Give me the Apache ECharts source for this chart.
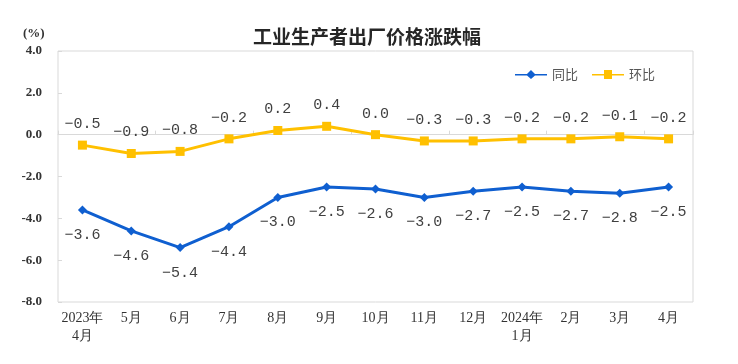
<!DOCTYPE html>
<html>
<head>
<meta charset="utf-8">
<script src="https://cdn.jsdelivr.net/npm/echarts@6/dist/echarts.min.js"></script>
<style>html,body{margin:0;padding:0;background:#fff;}#c{width:738px;height:364px;}</style>
</head>
<body>
<div id="c"></div>
<script>
const categories = ['2023年\n4月','5月','6月','7月','8月','9月','10月','11月','12月','2024年\n1月','2月','3月','4月'];
const yoy = [-3.6,-4.6,-5.4,-4.4,-3.0,-2.5,-2.6,-3.0,-2.7,-2.5,-2.7,-2.8,-2.5];
const mom = [-0.5,-0.9,-0.8,-0.2,0.2,0.4,0.0,-0.3,-0.3,-0.2,-0.2,-0.1,-0.2];
const yTicks = {min:-8, max:4, interval:2};

const labelFont = {fontFamily:'"Liberation Mono","DejaVu Sans Mono",monospace', fontSize:15, color:'#404040'};
const fmt = p => p.value.toFixed(1).replace('-', '\u2212');

const chart = echarts.init(document.getElementById('c'));
chart.setOption({
  animation:false,
  title:{text:'工业生产者出厂价格涨跌幅', left:362, top:22, textAlign:'center',
    textStyle:{fontFamily:'"Noto Sans CJK SC"', fontSize:19, fontWeight:'bold', color:'#262626'}},
  graphic:[{type:'text', left:23, top:27, style:{text:'(%)', font:'bold 13px "Liberation Serif"', fill:'#333'}}],
  legend:{right:78, top:63, itemWidth:32, itemHeight:9, itemGap:14,
    textStyle:{fontFamily:'"Noto Sans CJK SC"', fontSize:13, color:'#555'},
    data:[{name:'同比', icon:'path://M0,4 L12,4 L16,0 L20,4 L32,4 L32,5.5 L20,5.5 L16,9 L12,5.5 L0,5.5 Z'},
          {name:'环比', icon:'path://M0,4 L12,4 L12,0 L20,0 L20,4 L32,4 L32,5.5 L20,5.5 L20,9 L12,9 L12,5.5 L0,5.5 Z'}]},
  grid:{left:58, right:45, top:51, bottom:62, show:true, borderColor:'#d9d9d9', borderWidth:1},
  xAxis:[
    {type:'category', data:categories, boundaryGap:true, position:'bottom',
     axisLine:{show:false, onZero:false}, axisTick:{show:false},
     axisLabel:{fontFamily:'"Liberation Serif"', fontSize:14, color:'#333', margin:7, lineHeight:18, interval:0}},
    {type:'category', data:categories, boundaryGap:true, position:'bottom',
     axisLine:{show:true, onZero:true, lineStyle:{color:'#d9d9d9'}},
     axisTick:{show:true, inside:true, length:4, lineStyle:{color:'#d9d9d9'}},
     axisLabel:{show:false}}
  ],
  yAxis:{type:'value', min:yTicks.min, max:yTicks.max, interval:yTicks.interval,
    splitLine:{show:false}, axisLine:{show:false},
    axisTick:{show:true, inside:true, length:4, lineStyle:{color:'#d9d9d9'}},
    axisLabel:{formatter:v=>v.toFixed(1), fontFamily:'"Liberation Serif"', fontWeight:'bold', fontSize:13, color:'#333', margin:16}},
  series:[
    {name:'同比', type:'line', data:yoy, color:'#0F5FD0', symbol:'diamond', symbolSize:9,
     lineStyle:{width:3, color:'#0F5FD0'}, itemStyle:{color:'#0F5FD0'},
     label:{show:true, position:'bottom', distance:13, formatter:fmt, ...labelFont}},
    {name:'环比', type:'line', data:mom, color:'#FFC000', symbol:'rect', symbolSize:9,
     lineStyle:{width:3, color:'#FFC000'}, itemStyle:{color:'#FFC000'},
     label:{show:true, position:'top', distance:9, formatter:fmt, ...labelFont}}
  ]
});
</script>
</body>
</html>
